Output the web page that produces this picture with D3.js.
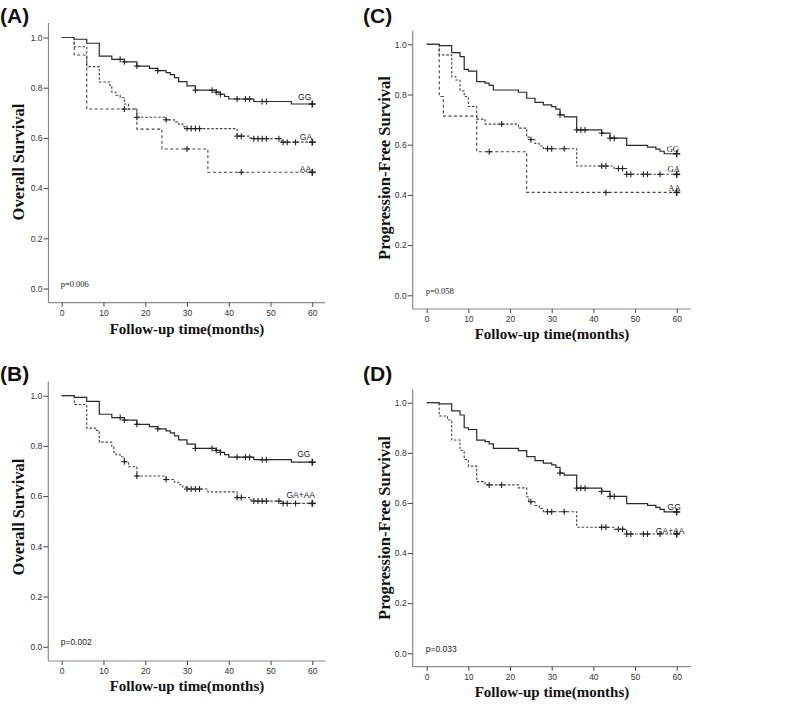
<!DOCTYPE html>
<html>
<head>
<meta charset="utf-8">
<script src="https://cdn.jsdelivr.net/npm/d3@7"></script>
<style>
  html, body { margin: 0; padding: 0; background: #fff; }
  svg { display: block; }
</style>
</head>
<body>
<svg id="chart" width="800" height="712"></svg>
<script>
// ---------------- DATA ----------------
const xTicks = [0, 10, 20, 30, 40, 50, 60];
const yTicks = [0.0, 0.2, 0.4, 0.6, 0.8, 1.0];

// Overall survival (panels A, B) — GG genotype
const osGGSteps = [[0,1],[3,0.993],[6,0.977],[9,0.926],[12,0.913],[15,0.903],[18,0.886],[21,0.877],[23,0.868],[25,0.86],[26,0.852],[27,0.84],[28,0.824],[30,0.807],[32,0.79],[37,0.782],[38,0.774],[39,0.765],[40,0.755],[46,0.745],[55,0.735]];
const osGGCensor = [14,15,18,23,32,36,37,38,42,44,45,48,49,60];

// Panel A — GA, AA
const osGASteps = [[0,1],[3,0.963],[6,0.884],[9,0.823],[11.5,0.81],[12,0.782],[13,0.77],[14,0.76],[15,0.735],[16,0.715],[18,0.682],[25,0.672],[27,0.664],[28,0.655],[29,0.645],[29.5,0.637],[42,0.607],[45,0.6],[46,0.597],[52.7,0.583]];
const osGACensor = [18,25,30,31,32,33,42,43,46,47,48,49,52,53,54,56,60];
const osAASteps = [[0,1],[3,0.93],[6,0.715],[18,0.635],[24,0.556],[35,0.463]];
const osAACensor = [15,30,43,60];

// Panel B — GA+AA
const osGAAASteps = [[0,1],[3,0.965],[6,0.871],[8,0.862],[9,0.815],[12,0.794],[12.5,0.775],[13,0.765],[14,0.757],[15,0.737],[16,0.717],[18,0.68],[25,0.666],[27,0.655],[28,0.645],[29,0.635],[30,0.628],[35,0.617],[42,0.594],[45,0.585],[46,0.58],[53,0.571]];
const osGAAACensor = [15,18,25,30,31,32,33,42,43,46,47,48,49,52,53,54,56,60];

// Progression-free survival (panels C, D) — GG genotype
const pfsGGSteps = [[0,1],[3,0.995],[6,0.967],[8,0.951],[9,0.9],[10,0.893],[12,0.851],[14,0.845],[15,0.836],[16,0.818],[22,0.809],[24,0.785],[26,0.769],[28,0.759],[30,0.752],[31,0.742],[32,0.719],[33,0.711],[36,0.659],[42,0.646],[44,0.626],[48,0.597],[53,0.59],[55,0.582],[56,0.574],[57,0.564]];
const pfsGGCensor = [32,36,37,38,42,44,45,60];

// Panel C — GA, AA
const pfsGASteps = [[0,1],[3,0.958],[6,0.871],[7,0.858],[8,0.814],[9,0.792],[10,0.752],[12,0.702],[14,0.682],[22,0.666],[24,0.63],[25,0.62],[26,0.605],[27,0.595],[28,0.584],[36,0.515],[45,0.505],[48,0.482]];
const pfsGACensor = [18,25,29,30,33,42,43,46,47,48,49,52,53,56,60];
const pfsAASteps = [[0,1],[3,0.792],[4,0.714],[12,0.572],[24,0.41]];
const pfsAACensor = [15,43,60];

// Panel D — GA+AA
const pfsGAAASteps = [[0,1],[3,0.947],[5,0.931],[6,0.851],[8,0.809],[9,0.774],[10,0.747],[12,0.685],[14,0.672],[22,0.66],[24,0.625],[24.5,0.605],[26,0.59],[27,0.578],[28,0.565],[36,0.503],[45,0.495],[48,0.476]];
const pfsGAAACensor = [15,18,25,29,30,33,42,43,46,47,48,49,52,53,56,60];

const panelLetters = ["(A)", "(B)", "(C)", "(D)"];
const pValues = ["p=0.006", "p=0.002", "p=0.058", "p=0.033"];
const yTitles = ["Overall Survival", "Overall Survival", "Progression-Free Survival", "Progression-Free Survival"];
const xTitle = "Follow-up time(months)";

// ---------------- LAYOUT ----------------
const panels = [
  { letter: panelLetters[0], p: pValues[0], yTitle: yTitles[0],
    x0: 61.7, x60: 312.3, yTop: 37.5, yBot: 288.5, axX: 48.5, axTop: 23, axBot: 302.7, axRight: 325,
    letterX: 0, letterY: 23, titleX: 19, titleCY: 162, xTitleX: 187, xTitleY: 334, pFont: "Liberation Serif", labFont: "Liberation Sans",
    curves: [
      { steps: osGGSteps, censor: osGGCensor, dash: null, label: "GG", lt: 56.6, ls: 0.764 },
      { steps: osGASteps, censor: osGACensor, dash: "2.5,1.8", label: "GA", lt: 57.0, ls: 0.605 },
      { steps: osAASteps, censor: osAACensor, dash: "3,2.5", label: "AA", lt: 57.0, ls: 0.475 }
    ] },
  { letter: panelLetters[1], p: pValues[1], yTitle: yTitles[1],
    x0: 61.7, x60: 312.3, yTop: 395.7, yBot: 646.7, axX: 48.3, axTop: 381.5, axBot: 661, axRight: 325,
    letterX: 0, letterY: 381, titleX: 19, titleCY: 517, xTitleX: 187, xTitleY: 691, pFont: "Liberation Sans", labFont: "Liberation Sans",
    curves: [
      { steps: osGGSteps, censor: osGGCensor, dash: null, label: "GG", lt: 56.4, ls: 0.766 },
      { steps: osGAAASteps, censor: osGAAACensor, dash: "2.5,1.8", label: "GA+AA", lt: 53.8, ls: 0.606 }
    ] },
  { letter: panelLetters[2], p: pValues[2], yTitle: yTitles[2],
    x0: 426.7, x60: 676.7, yTop: 44.3, yBot: 295.3, axX: 412.7, axTop: 30.7, axBot: 309, axRight: 691,
    letterX: 363, letterY: 23, titleX: 385, titleCY: 168, xTitleX: 552, xTitleY: 339, pFont: "Liberation Serif", labFont: "Liberation Serif",
    curves: [
      { steps: pfsGGSteps, censor: pfsGGCensor, dash: null, label: "GG", lt: 57.6, ls: 0.582 },
      { steps: pfsGASteps, censor: pfsGACensor, dash: "2.5,1.8", label: "GA", lt: 57.8, ls: 0.502 },
      { steps: pfsAASteps, censor: pfsAACensor, dash: "3,2.5", label: "AA", lt: 58.0, ls: 0.428 }
    ] },
  { letter: panelLetters[3], p: pValues[3], yTitle: yTitles[3],
    x0: 426.7, x60: 676.7, yTop: 402.7, yBot: 653.3, axX: 412.7, axTop: 389.3, axBot: 666.7, axRight: 691,
    letterX: 363, letterY: 381, titleX: 385, titleCY: 528, xTitleX: 552, xTitleY: 697, pFont: "Liberation Sans", labFont: "Liberation Sans",
    curves: [
      { steps: pfsGGSteps, censor: pfsGGCensor, dash: null, label: "GG", lt: 57.8, ls: 0.585 },
      { steps: pfsGAAASteps, censor: pfsGAAACensor, dash: "2.5,1.8", label: "GA+AA", lt: 55.0, ls: 0.49 }
    ] }
];

const svg = d3.select("#chart");
const axisColor = "#8a8a8a";
const lineColor = "#2a2a2a";

function stepValue(steps, t) {
  let v = steps[0][1];
  for (const s of steps) { if (s[0] <= t) v = s[1]; }
  return v;
}

panels.forEach(P => {
  const g = svg.append("g");
  const x = d3.scaleLinear().domain([0, 60]).range([P.x0, P.x60]);
  const y = d3.scaleLinear().domain([0, 1]).range([P.yBot, P.yTop]);

  // Panel letter
  g.append("text").attr("x", P.letterX).attr("y", P.letterY)
    .attr("font-family", "Liberation Sans, Arial, sans-serif").attr("font-weight", "bold")
    .attr("font-size", 21).attr("fill", "#111").text(P.letter);

  // Axis lines (frame)
  g.append("line").attr("x1", P.axX).attr("x2", P.axX).attr("y1", P.axTop).attr("y2", P.axBot)
    .attr("stroke", axisColor).attr("stroke-width", 1.2);
  g.append("line").attr("x1", P.axX).attr("x2", P.axRight).attr("y1", P.axBot).attr("y2", P.axBot)
    .attr("stroke", axisColor).attr("stroke-width", 1.2);

  // Y axis ticks
  const yAxis = d3.axisLeft(y).tickValues(yTicks).tickFormat(d3.format(".1f")).tickSize(5).tickPadding(1);
  const yg = g.append("g").attr("transform", `translate(${P.axX},0)`).call(yAxis);
  yg.select(".domain").remove();
  yg.selectAll("line").attr("stroke", "#444").attr("stroke-width", 1);
  yg.selectAll("text").attr("font-family", "Liberation Sans, Arial, sans-serif").attr("font-size", 8.5).attr("fill", "#333");

  // X axis ticks
  const xAxis = d3.axisBottom(x).tickValues(xTicks).tickFormat(d3.format("d")).tickSize(4).tickPadding(3);
  const xg = g.append("g").attr("transform", `translate(0,${P.axBot})`).call(xAxis);
  xg.select(".domain").remove();
  xg.selectAll("line").attr("stroke", "#444").attr("stroke-width", 1);
  xg.selectAll("text").attr("font-family", "Liberation Sans, Arial, sans-serif").attr("font-size", 8.5).attr("fill", "#333");

  // Titles
  g.append("text")
    .attr("transform", `translate(${P.titleX + 5},${P.titleCY}) rotate(-90)`)
    .attr("text-anchor", "middle")
    .attr("font-family", "Liberation Serif, Times New Roman, serif").attr("font-weight", "bold")
    .attr("font-size", 16.5).attr("fill", "#111").text(P.yTitle);
  g.append("text").attr("x", P.xTitleX).attr("y", P.xTitleY).attr("text-anchor", "middle")
    .attr("font-family", "Liberation Serif, Times New Roman, serif").attr("font-weight", "bold")
    .attr("font-size", 15).attr("fill", "#111").text(xTitle);

  // p value
  g.append("text").attr("x", x(0) - 1).attr("y", y(0) - 1.5)
    .attr("font-family", P.pFont).attr("font-size", 8.5).attr("fill", "#222").text(P.p);

  // Curves
  const line = d3.line().x(d => x(d[0])).y(d => y(d[1])).curve(d3.curveStepAfter);
  P.curves.forEach(C => {
    const pts = C.steps.concat([[60, C.steps[C.steps.length - 1][1]]]);
    g.append("path").datum(pts).attr("d", line)
      .attr("fill", "none").attr("stroke", C.dash ? "#444" : lineColor)
      .attr("stroke-width", C.dash ? 1.1 : 1.2)
      .attr("stroke-dasharray", C.dash);
    // censor marks
    C.censor.forEach(t => {
      const cx = x(t), cy = y(stepValue(C.steps, t));
      const last = t === 60;
      const h = last ? 3.5 : 3;
      g.append("line").attr("x1", cx - h).attr("x2", cx + h).attr("y1", cy).attr("y2", cy)
        .attr("stroke", "#222").attr("stroke-width", last ? 1.6 : 1.1);
      g.append("line").attr("x1", cx).attr("x2", cx).attr("y1", cy - h).attr("y2", cy + h)
        .attr("stroke", "#222").attr("stroke-width", last ? 1.6 : 1.1);
    });
    // label
    g.append("text").attr("x", x(C.lt)).attr("y", y(C.ls) + 3)
      .attr("font-family", P.labFont).attr("font-size", 8.5).attr("fill", "#222").text(C.label);
  });
});
</script>
</body>
</html>
